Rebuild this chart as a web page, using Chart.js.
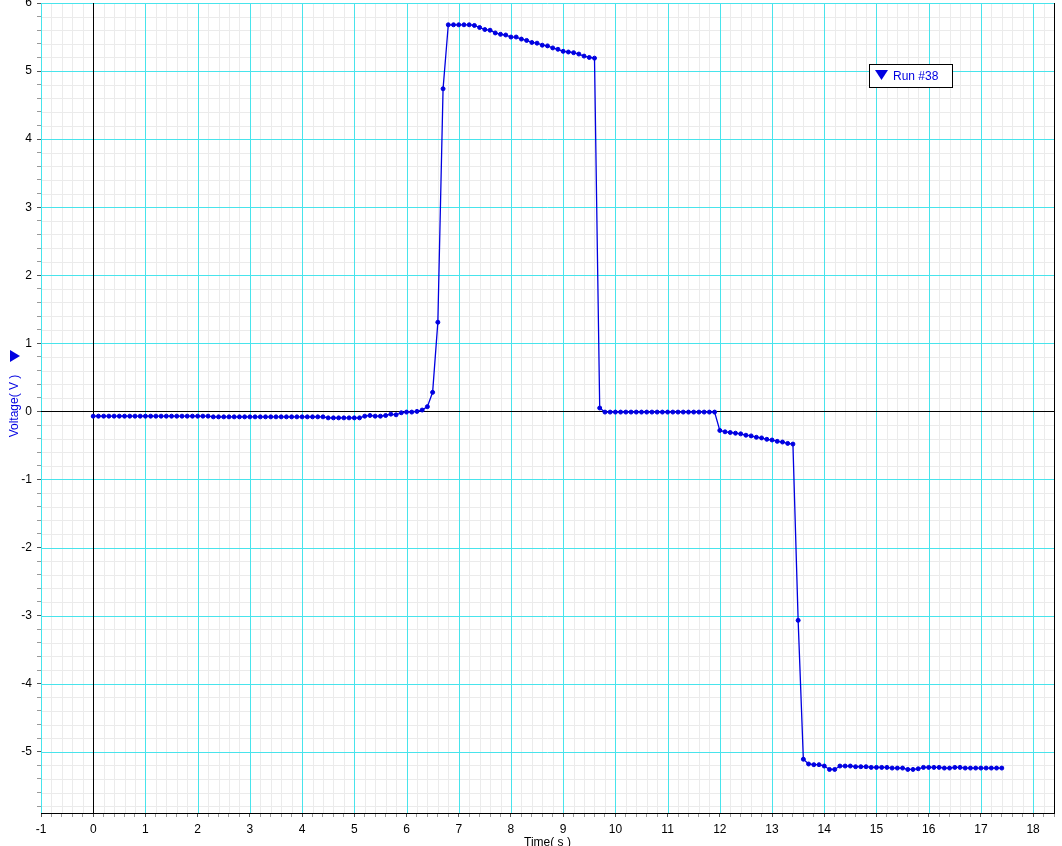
<!DOCTYPE html>
<html>
<head>
<meta charset="utf-8">
<script src="https://cdn.jsdelivr.net/npm/chart.js@4/dist/chart.umd.min.js"></script>
<style>
  html, body { margin: 0; padding: 0; background: #fff; }
  #wrap { width: 1062px; height: 846px; }
</style>
</head>
<body>
<div id="wrap"><canvas id="grafico" width="1062" height="846"></canvas></div>
<script>
// tempo (s), uma amostra a cada 0.1 s
const tempos = [
  0.0, 0.1, 0.2, 0.3, 0.4, 0.5, 0.6, 0.7, 0.8, 0.9,
  1.0, 1.1, 1.2, 1.3, 1.4, 1.5, 1.6, 1.7, 1.8, 1.9,
  2.0, 2.1, 2.2, 2.3, 2.4, 2.5, 2.6, 2.7, 2.8, 2.9,
  3.0, 3.1, 3.2, 3.3, 3.4, 3.5, 3.6, 3.7, 3.8, 3.9,
  4.0, 4.1, 4.2, 4.3, 4.4, 4.5, 4.6, 4.7, 4.8, 4.9,
  5.0, 5.1, 5.2, 5.3, 5.4, 5.5, 5.6, 5.7, 5.8, 5.9,
  6.0, 6.1, 6.2, 6.3, 6.4, 6.5, 6.6, 6.7, 6.8, 6.9,
  7.0, 7.1, 7.2, 7.3, 7.4, 7.5, 7.6, 7.7, 7.8, 7.9,
  8.0, 8.1, 8.2, 8.3, 8.4, 8.5, 8.6, 8.7, 8.8, 8.9,
  9.0, 9.1, 9.2, 9.3, 9.4, 9.5, 9.6, 9.7, 9.8, 9.9,
  10.0, 10.1, 10.2, 10.3, 10.4, 10.5, 10.6, 10.7, 10.8, 10.9,
  11.0, 11.1, 11.2, 11.3, 11.4, 11.5, 11.6, 11.7, 11.8, 11.9,
  12.0, 12.1, 12.2, 12.3, 12.4, 12.5, 12.6, 12.7, 12.8, 12.9,
  13.0, 13.1, 13.2, 13.3, 13.4, 13.5, 13.6, 13.7, 13.8, 13.9,
  14.0, 14.1, 14.2, 14.3, 14.4, 14.5, 14.6, 14.7, 14.8, 14.9,
  15.0, 15.1, 15.2, 15.3, 15.4, 15.5, 15.6, 15.7, 15.8, 15.9,
  16.0, 16.1, 16.2, 16.3, 16.4, 16.5, 16.6, 16.7, 16.8, 16.9,
  17.0, 17.1, 17.2, 17.3, 17.4
];

// tensao (V) - Run #38
const tensao = [
  -0.07, -0.07, -0.07, -0.07, -0.07, -0.07, -0.07, -0.07, -0.07, -0.07,
  -0.07, -0.07, -0.07, -0.07, -0.07, -0.07, -0.07, -0.07, -0.07, -0.07,
  -0.07, -0.07, -0.07, -0.08, -0.08, -0.08, -0.08, -0.08, -0.08, -0.08,
  -0.08, -0.08, -0.08, -0.08, -0.08, -0.08, -0.08, -0.08, -0.08, -0.08,
  -0.08, -0.08, -0.08, -0.08, -0.08, -0.095, -0.095, -0.095, -0.095, -0.095,
  -0.095, -0.095, -0.07, -0.06, -0.07, -0.07, -0.06, -0.04, -0.05, -0.02,
  -0.01, -0.01, 0.00, 0.02, 0.07, 0.28, 1.31, 4.74, 5.68, 5.68,
  5.68, 5.68, 5.68, 5.67, 5.64, 5.61, 5.60, 5.56, 5.54, 5.53,
  5.50, 5.50, 5.47, 5.45, 5.42, 5.41, 5.38, 5.37, 5.34, 5.32,
  5.29, 5.28, 5.27, 5.25, 5.22, 5.20, 5.19, 0.05, -0.01, -0.01,
  -0.01, -0.01, -0.01, -0.01, -0.01, -0.01, -0.01, -0.01, -0.01, -0.01,
  -0.01, -0.01, -0.01, -0.01, -0.01, -0.01, -0.01, -0.01, -0.01, -0.01,
  -0.28, -0.30, -0.31, -0.32, -0.33, -0.35, -0.36, -0.38, -0.39, -0.41,
  -0.42, -0.44, -0.45, -0.47, -0.48, -3.07, -5.11, -5.18, -5.19, -5.19,
  -5.21, -5.26, -5.26, -5.21, -5.21, -5.21, -5.22, -5.22, -5.22, -5.23,
  -5.23, -5.23, -5.23, -5.24, -5.24, -5.24, -5.26, -5.26, -5.25, -5.23,
  -5.23, -5.23, -5.23, -5.24, -5.24, -5.23, -5.23, -5.24, -5.24, -5.24,
  -5.24, -5.24, -5.24, -5.24, -5.24
];

// marcas dos eixos (principais a cada 1, secundarias a cada 0.2)
const ticksX = [-1, 0, 1, 2, 3, 4, 5, 6, 7, 8, 9, 10, 11, 12, 13, 14, 15, 16, 17, 18];
const ticksY = [-5, -4, -3, -2, -1, 0, 1, 2, 3, 4, 5, 6];
const passoMenor = 0.2;

const azul = 'rgb(0,0,225)';
const ciano = 'rgb(72,228,236)';
const cinza = '#ebebeb';

function marcas(min, max) {
  let lista = [];
  for (let i = Math.ceil(min / passoMenor - 1e-6); i * passoMenor <= max + 1e-6; i++) {
    lista.push({ value: Math.round(i * passoMenor * 1000) / 1000 });
  }
  return lista;
}
function ehInteiro(v) { return Math.abs(v - Math.round(v)) < 1e-6; }

function corMarca(ctx) {
  let v = ctx.tick ? ctx.tick.value : 0;
  return ehInteiro(v) ? '#555' : '#999';
}

function semFolga(s) {
  s.paddingTop = 0;
  s.paddingBottom = 0;
  s.paddingLeft = 0;
  s.paddingRight = 0;
}

const extras = {
  id: 'extras',
  beforeDatasetsDraw(chart) {
    // grade: secundaria cinza, depois principal ciano, depois zero preto
    const c = chart.ctx;
    const a = chart.chartArea;
    const sx = chart.scales.x;
    const sy = chart.scales.y;
    c.save();
    c.lineWidth = 1;
    function linhas(filtro, cor) {
      c.strokeStyle = cor;
      c.beginPath();
      sx.ticks.forEach(t => {
        if (!filtro(t.value)) return;
        let px = Math.round(sx.getPixelForValue(t.value)) + 0.5;
        c.moveTo(px, a.top);
        c.lineTo(px, a.bottom);
      });
      sy.ticks.forEach(t => {
        if (!filtro(t.value)) return;
        let py = Math.round(sy.getPixelForValue(t.value)) + 0.5;
        c.moveTo(a.left, py);
        c.lineTo(a.right, py);
      });
      c.stroke();
    }
    linhas(v => !ehInteiro(v), cinza);
    linhas(v => ehInteiro(v) && Math.abs(v) > 1e-6, ciano);
    linhas(v => Math.abs(v) < 1e-6, '#000');
    c.strokeStyle = '#000';
    c.beginPath();
    c.moveTo(Math.round(a.right) + 0.5, a.top);
    c.lineTo(Math.round(a.right) + 0.5, a.bottom);
    c.stroke();
    c.restore();
  },
  afterDraw(chart) {
    const c = chart.ctx;
    const a = chart.chartArea;
    c.save();
    // titulo eixo x (cortado na borda de baixo)
    c.fillStyle = '#000';
    c.font = '12px "Liberation Sans", Arial, sans-serif';
    c.textAlign = 'center';
    c.textBaseline = 'top';
    c.fillText('Time( s )', (a.left + a.right) / 2, 837);

    // titulo eixo y, rodado, com o triangulo
    c.save();
    c.translate(15, 406);
    c.rotate(-Math.PI / 2);
    c.fillStyle = azul;
    c.textAlign = 'center';
    c.textBaseline = 'middle';
    c.fillText('Voltage( V )', 0, 0);
    c.beginPath();
    c.moveTo(44, -5);
    c.lineTo(56, -5);
    c.lineTo(50, 5);
    c.closePath();
    c.fill();
    c.restore();

    // legenda
    c.fillStyle = '#fff';
    c.fillRect(869.5, 64.5, 83, 23);
    c.strokeStyle = '#000';
    c.strokeRect(869.5, 64.5, 83, 23);
    c.fillStyle = azul;
    c.beginPath();
    c.moveTo(875, 70);
    c.lineTo(888, 70);
    c.lineTo(881.5, 80);
    c.closePath();
    c.fill();
    c.textAlign = 'left';
    c.textBaseline = 'middle';
    c.fillText('Run #38', 893, 76.5);
    c.restore();
  }
};

let grafico = new Chart(document.getElementById('grafico').getContext('2d'), {
  type: 'scatter',
  data: {
    datasets: [
      {
        label: 'Run #38',
        data: tempos.map((t, i) => ({ x: t, y: tensao[i] })),
        showLine: true,
        borderColor: azul,
        backgroundColor: azul,
        borderWidth: 1.3,
        pointStyle: 'circle',
        pointRadius: 2,
        pointBorderWidth: 1,
        pointHoverRadius: 2,
        tension: 0
      }
    ]
  },
  options: {
    responsive: false,
    animation: false,
    layout: { padding: { top: 2, right: 8, bottom: 0, left: 0 } },
    plugins: {
      legend: { display: false },
      tooltip: { enabled: false }
    },
    scales: {
      x: {
        type: 'linear',
        min: ticksX[0],
        max: 18.4,
        afterFit(s) { s.height = 33; semFolga(s); },
        afterBuildTicks(s) { s.ticks = marcas(s.min, s.max); },
        ticks: {
          autoSkip: false,
          maxRotation: 0,
          padding: 5,
          color: '#000',
          font: { family: '"Liberation Sans", Arial, sans-serif', size: 12 },
          callback: (v) => (ehInteiro(v) && ticksX.includes(Math.round(v))) ? String(Math.round(v)) : ''
        },
        grid: { drawOnChartArea: false, lineWidth: 1, tickLength: 4, tickColor: corMarca },
        border: { color: '#000', width: 1 }
      },
      y: {
        type: 'linear',
        min: -5.9,
        max: ticksY[ticksY.length - 1],
        afterFit(s) { s.width = 41; semFolga(s); },
        afterBuildTicks(s) { s.ticks = marcas(s.min, s.max); },
        ticks: {
          autoSkip: false,
          padding: 5,
          color: '#000',
          font: { family: '"Liberation Sans", Arial, sans-serif', size: 12 },
          callback: (v) => (ehInteiro(v) && ticksY.includes(Math.round(v))) ? String(Math.round(v)) : ''
        },
        grid: { drawOnChartArea: false, lineWidth: 1, tickLength: 4, tickColor: corMarca },
        border: { color: '#000', width: 1 }
      }
    }
  },
  plugins: [extras]
});
</script>
</body>
</html>
